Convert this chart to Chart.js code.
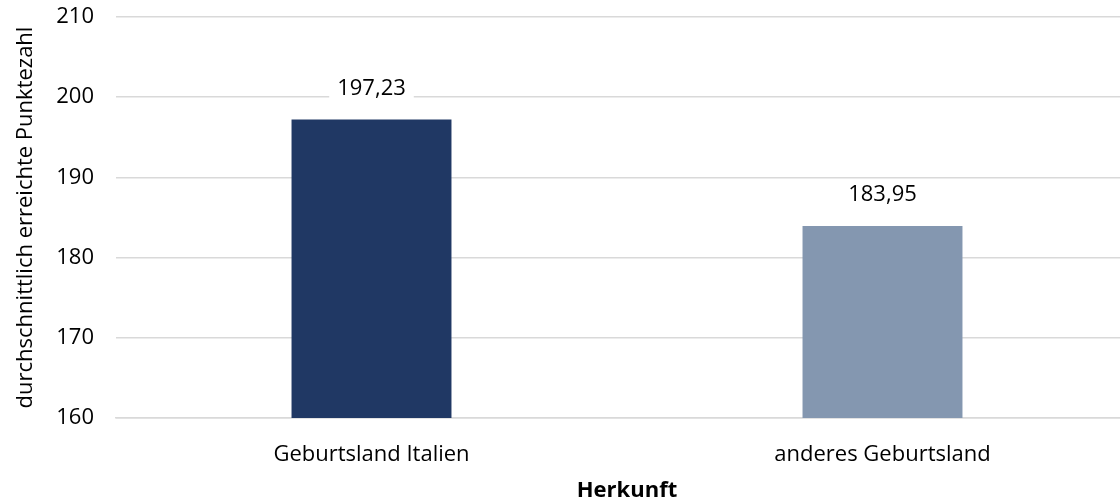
<!DOCTYPE html>
<html>
<head>
<meta charset="utf-8">
<script src="https://cdn.jsdelivr.net/npm/chart.js@4"></script>
<style>
  html, body { margin: 0; padding: 0; background: #fff; overflow: hidden; }
  #wrap { width: 1138px; height: 504px; position: relative; }
</style>
</head>
<body>
<div id="wrap"><canvas id="herkunftChart"></canvas></div>
<script>
const categories = ['Geburtsland Italien', 'anderes Geburtsland'];
const punkte = [197.23, 183.95];
const barColors = ['#203864', '#8497B0'];
const yTicks = [160, 170, 180, 190, 200, 210];

const FONT = '"Open Sans", "Noto Sans", sans-serif';
const FS = 22;

// Werte über den Balken, mit weißem Hintergrund
const valueLabels = {
    id: 'valueLabels',
    afterDatasetsDraw(chart) {
        const ctx = chart.ctx;
        const meta = chart.getDatasetMeta(0);
        ctx.save();
        ctx.font = FS + 'px ' + FONT;
        ctx.textAlign = 'center';
        ctx.textBaseline = 'middle';
        meta.data.forEach((bar, i) => {
            const txt = punkte[i].toFixed(2).replace('.', ',');
            const y = bar.y - 31;
            const w = ctx.measureText(txt).width + 16;
            ctx.fillStyle = '#fff';
            ctx.fillRect(bar.x - w / 2, y - 15, w, 30);
            ctx.fillStyle = '#000';
            ctx.fillText(txt, bar.x, y);
        });
        ctx.restore();
    }
};

new Chart(document.getElementById('herkunftChart'), {
    type: 'bar',
    data: {
        labels: categories,
        datasets: [{
            data: punkte,
            backgroundColor: barColors,
            categoryPercentage: 1,
            barPercentage: 0.313
        }]
    },
    options: {
        responsive: true,
        maintainAspectRatio: false,
        animation: false,
        layout: { padding: { top: 17, left: 0, right: 0, bottom: 0 } },
        plugins: {
            legend: { display: false },
            tooltip: { enabled: false }
        },
        scales: {
            y: {
                min: 160,
                max: 210,
                afterBuildTicks: (axis) => { axis.ticks = yTicks.map(v => ({ value: v })); },
                afterFit: (axis) => {
                    axis.width = 116;
                    axis.paddingTop = 0;
                    axis.paddingBottom = 0;
                },
                grid: { color: '#d9d9d9', lineWidth: 1.5, drawTicks: false },
                border: { display: false },
                ticks: { color: '#000', padding: 22, font: { family: FONT, size: FS } },
                title: {
                    display: true,
                    text: 'durchschnittlich erreichte Punktezahl',
                    color: '#000',
                    font: { family: FONT, size: FS },
                    padding: { top: 13, bottom: 0 }
                }
            },
            x: {
                afterFit: (axis) => {
                    axis.height = 86;
                    axis.paddingLeft = 0;
                    axis.paddingRight = 0;
                },
                grid: { display: false },
                border: { color: '#d9d9d9', width: 1.5 },
                ticks: { color: '#000', padding: 16, maxRotation: 0, font: { family: FONT, size: FS } },
                title: {
                    display: true,
                    text: 'Herkunft',
                    color: '#000',
                    font: { family: FONT, size: FS, weight: 'bold' },
                    padding: { top: 0, bottom: 0 }
                }
            }
        }
    },
    plugins: [valueLabels]
});
</script>
</body>
</html>
